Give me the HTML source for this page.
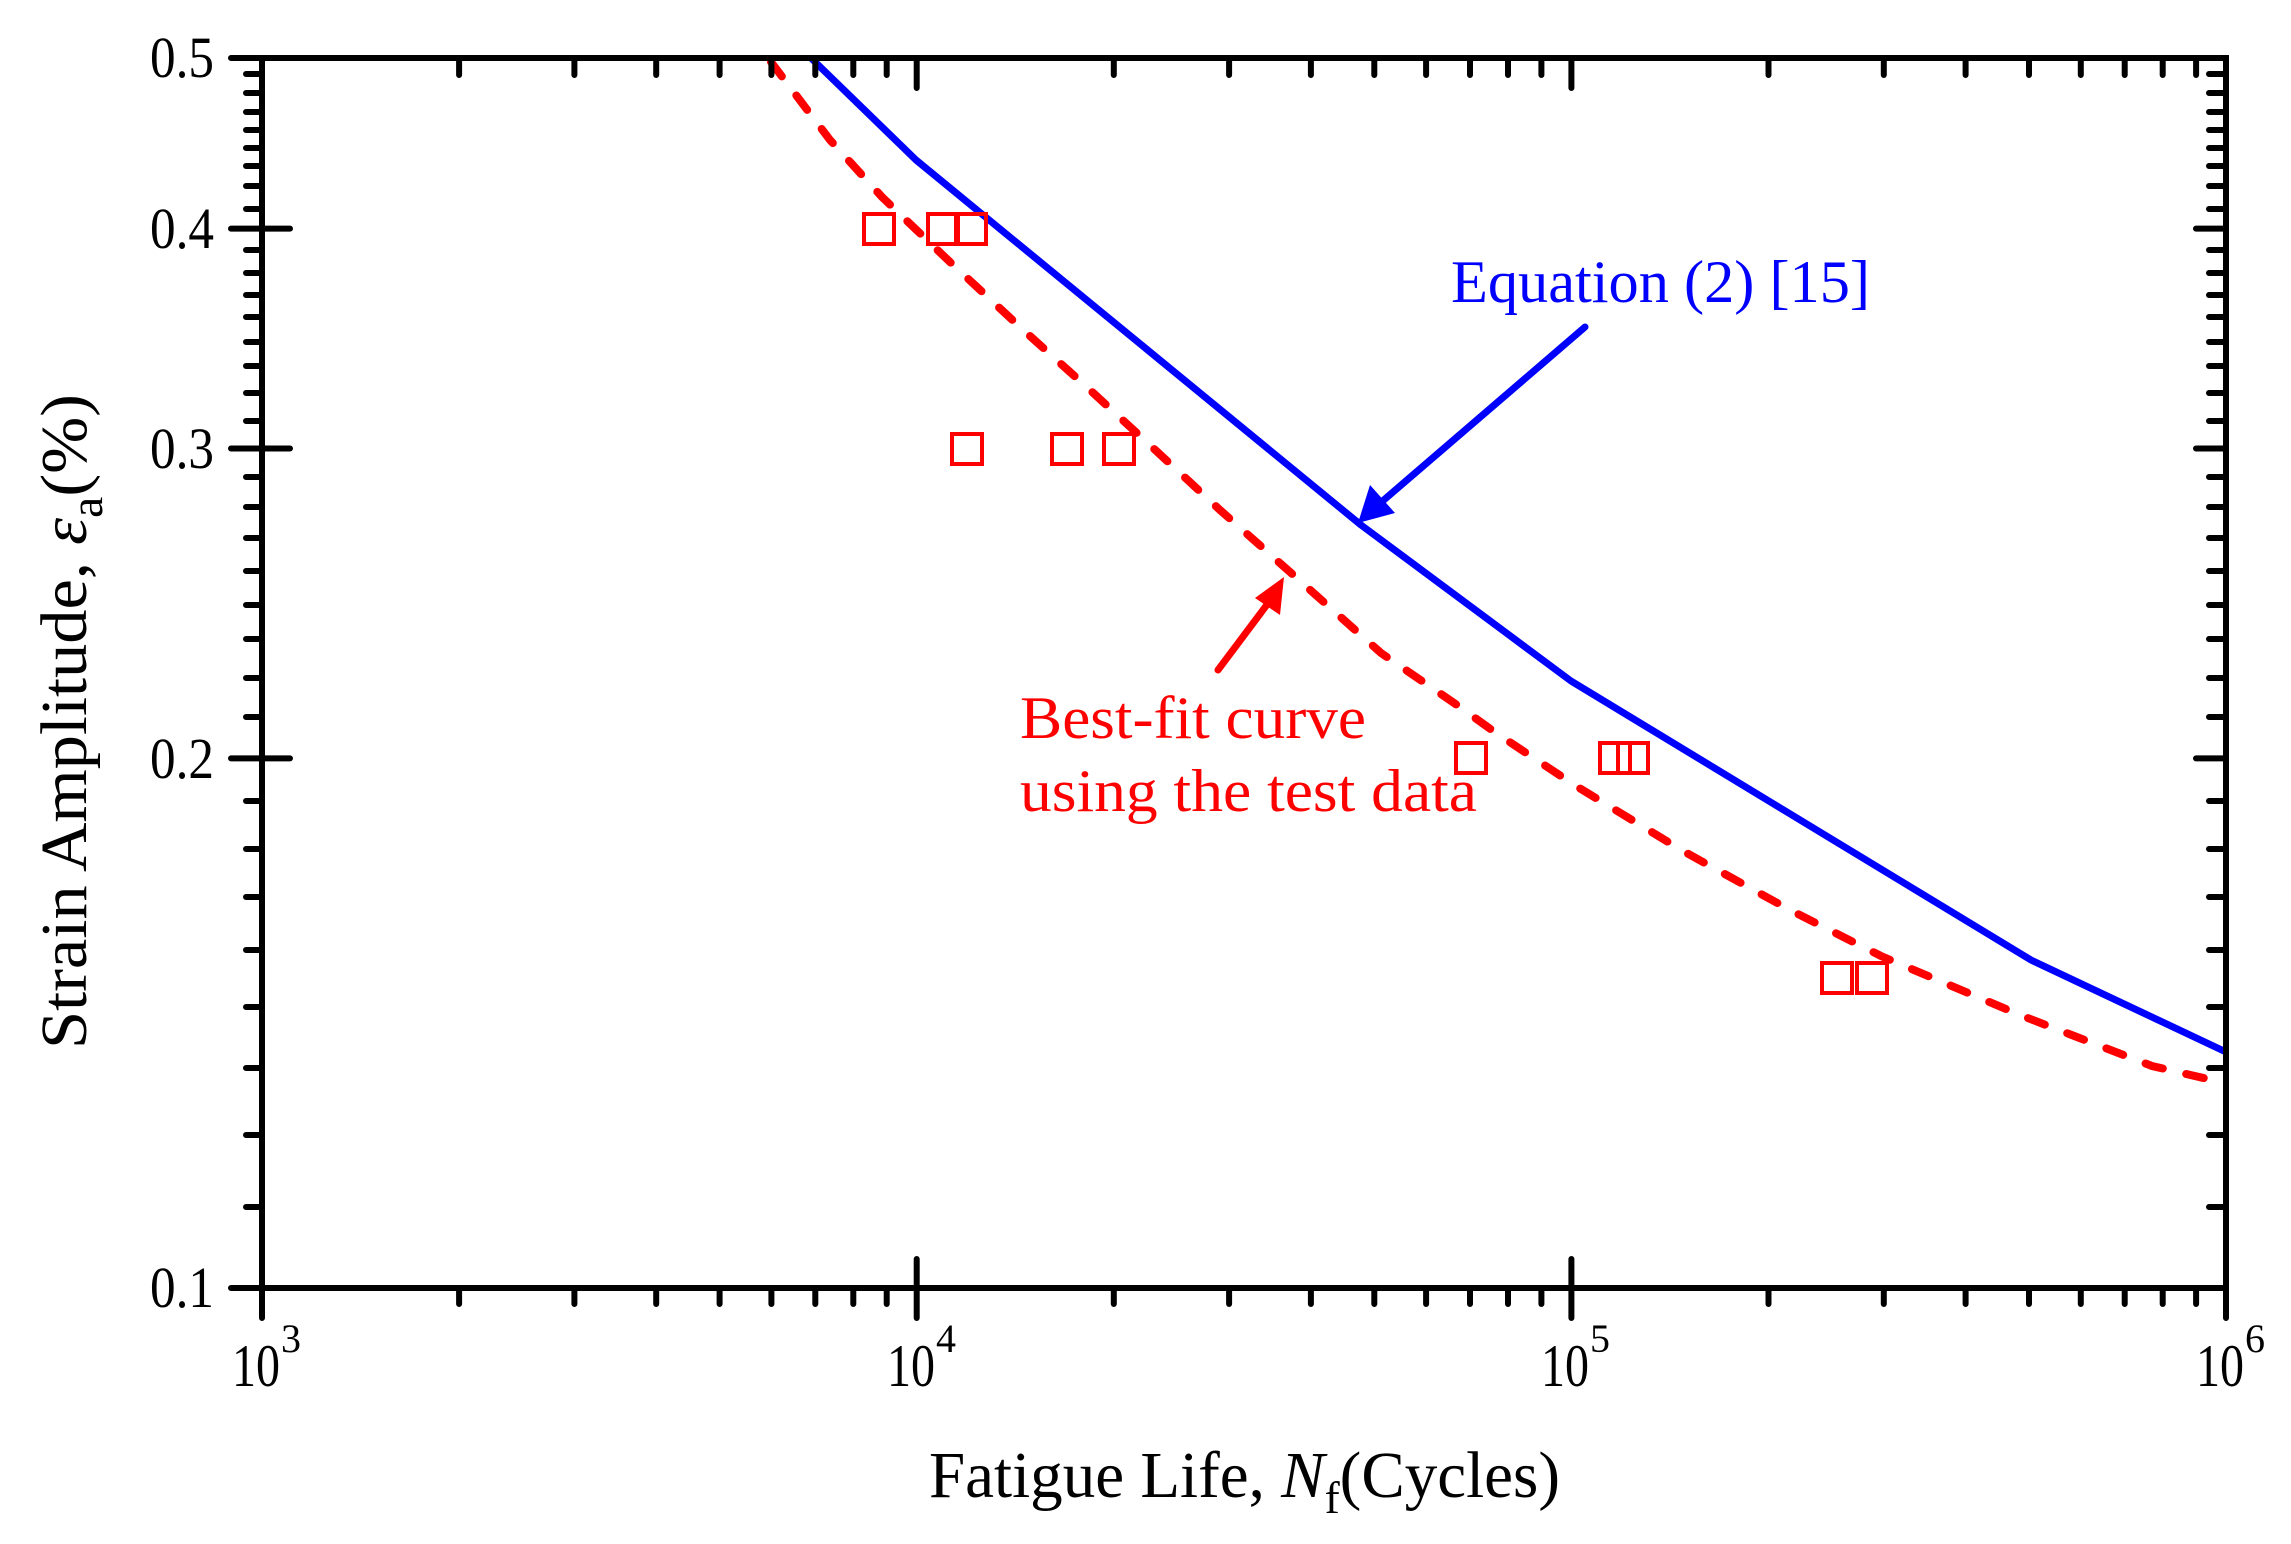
<!DOCTYPE html>
<html><head><meta charset="utf-8"><style>html,body{margin:0;padding:0;background:#fff}svg{display:block}</style></head>
<body>
<svg width="2291" height="1544" viewBox="0 0 2291 1544" xmlns="http://www.w3.org/2000/svg" font-family="'Liberation Serif', serif">
<rect width="2291" height="1544" fill="#fff"/>
<!-- curves -->
<polyline fill="none" stroke="#0000ff" stroke-width="7" stroke-linejoin="round" points="811,58 916,160 1361,525 1571,681 2031,960 2226,1052"/>
<path fill="none" stroke="#ff0000" stroke-width="8" stroke-linecap="round" stroke-dasharray="18,24" d="M771,62 L830,140 L882,197 L950,262 L1020,327 L1090,390 L1152,447 L1220,510 L1290,572 L1381,653 L1457,705 L1496,733 L1576,786 L1683,851 L1790,910 L1881,956 L2020,1015 L2152,1066 L2225,1083"/>
<!-- data squares -->
<g fill="none" stroke="#ff0000" stroke-width="4">
<rect x="864" y="214" width="30" height="30"/><rect x="928" y="214" width="30" height="30"/><rect x="956" y="214" width="30" height="30"/>
<rect x="952" y="434" width="30" height="30"/><rect x="1052" y="434" width="30" height="30"/><rect x="1104" y="434" width="30" height="30"/>
<rect x="1456" y="743" width="30" height="30"/><rect x="1600" y="743" width="30" height="30"/><rect x="1618" y="743" width="30" height="30"/>
<rect x="1822" y="963" width="30" height="30"/><rect x="1857" y="963" width="30" height="30"/>
</g>
<!-- annotations -->
<line x1="1585" y1="327" x2="1378" y2="505" stroke="#0000ff" stroke-width="7" stroke-linecap="round"/>
<polygon points="1358,523 1370,485 1395,513" fill="#0000ff"/>
<text x="1451" y="302" font-size="60" fill="#0000ff" textLength="419" lengthAdjust="spacingAndGlyphs">Equation (2) [15]</text>
<line x1="1218" y1="670" x2="1272" y2="598" stroke="#ff0000" stroke-width="7" stroke-linecap="round"/>
<polygon points="1284,577 1280,615 1255,598" fill="#ff0000"/>
<text x="1020" y="738" font-size="60" fill="#ff0000" textLength="346" lengthAdjust="spacingAndGlyphs">Best-fit curve</text>
<text x="1020" y="811" font-size="60" fill="#ff0000" textLength="457" lengthAdjust="spacingAndGlyphs">using the test data</text>
<!-- axes frame -->
<rect x="262" y="58" width="1964" height="1230" fill="none" stroke="#000" stroke-width="6"/>
<g stroke="#000" stroke-width="6" stroke-linecap="round" fill="none">
<path d="M262,1259V1318M916.7,1259V1318M1571.4,1259V1318M2226,1259V1318"/>
<path d="M459.1,1288v16M574.4,1288v16M656.2,1288v16M719.6,1288v16M771.4,1288v16M815.3,1288v16M853.3,1288v16M886.7,1288v16M1113.8,1288v16M1229.1,1288v16M1310.9,1288v16M1374.3,1288v16M1426.1,1288v16M1470,1288v16M1508,1288v16M1541.4,1288v16M1768.5,1288v16M1883.8,1288v16M1965.6,1288v16M2029,1288v16M2080.8,1288v16M2124.7,1288v16M2162.7,1288v16M2196.1,1288v16"/>
<path d="M916.7,58v30M1571.4,58v30"/>
<path d="M459.1,58v17M574.4,58v17M656.2,58v17M719.6,58v17M771.4,58v17M815.3,58v17M853.3,58v17M886.7,58v17M1113.8,58v17M1229.1,58v17M1310.9,58v17M1374.3,58v17M1426.1,58v17M1470,58v17M1508,58v17M1541.4,58v17M1768.5,58v17M1883.8,58v17M1965.6,58v17M2029,58v17M2080.8,58v17M2124.7,58v17M2162.7,58v17M2196.1,58v17"/>
<path d="M231,58h31M231,228.6h59M231,448.5h59M231,758.4h59M231,1288h59"/>
<path d="M2196,228.6h30M2196,448.5h30M2196,758.4h30"/>
<path d="M246,74h16M246,93h16M246,112h16M246,130h16M246,148h16M246,166h16M246,186h16M246,209h16M246,250h16M246,273h16M246,295h16M246,317h16M246,342h16M246,366h16M246,393h16M246,421h16M246,477h16M246,507h16M246,538h16M246,571h16M246,605h16M246,639h16M246,678h16M246,717h16M246,801h16M246,849h16M246,897h16M246,950h16M246,1007h16M246,1068h16M246,1135h16M246,1207h16"/>
<path d="M2209,74h17M2209,93h17M2209,112h17M2209,130h17M2209,148h17M2209,166h17M2209,186h17M2209,209h17M2209,250h17M2209,273h17M2209,295h17M2209,317h17M2209,342h17M2209,366h17M2209,393h17M2209,421h17M2209,477h17M2209,507h17M2209,538h17M2209,571h17M2209,605h17M2209,639h17M2209,678h17M2209,717h17M2209,801h17M2209,849h17M2209,897h17M2209,950h17M2209,1007h17M2209,1068h17M2209,1135h17M2209,1207h17"/>
</g>
<!-- y tick labels -->
<g font-size="58" fill="#000">
<text x="150" y="77" textLength="64" lengthAdjust="spacingAndGlyphs">0.5</text>
<text x="150" y="248" textLength="64" lengthAdjust="spacingAndGlyphs">0.4</text>
<text x="150" y="468" textLength="64" lengthAdjust="spacingAndGlyphs">0.3</text>
<text x="150" y="778" textLength="64" lengthAdjust="spacingAndGlyphs">0.2</text>
<text x="150" y="1307" textLength="64" lengthAdjust="spacingAndGlyphs">0.1</text>
</g>
<!-- x tick labels -->
<g font-size="60" fill="#000">
<text x="232" y="1386" textLength="48" lengthAdjust="spacingAndGlyphs">10</text><text x="281" y="1352" font-size="40">3</text>
<text x="887" y="1386" textLength="48" lengthAdjust="spacingAndGlyphs">10</text><text x="936" y="1352" font-size="40">4</text>
<text x="1541" y="1386" textLength="48" lengthAdjust="spacingAndGlyphs">10</text><text x="1590" y="1352" font-size="40">5</text>
<text x="2196" y="1386" textLength="48" lengthAdjust="spacingAndGlyphs">10</text><text x="2245" y="1352" font-size="40">6</text>
</g>
<!-- axis titles -->
<text x="929" y="1497" font-size="66" fill="#000" textLength="631" lengthAdjust="spacingAndGlyphs">Fatigue Life, <tspan font-style="italic">N</tspan><tspan font-size="46" dy="16">f</tspan><tspan dy="-16">(Cycles)</tspan></text>
<text transform="translate(86,1049) rotate(-90)" font-size="66" fill="#000" textLength="655" lengthAdjust="spacingAndGlyphs">Strain Amplitude, <tspan font-style="italic">ε</tspan><tspan font-size="46" dy="16">a</tspan><tspan dy="-16">(%)</tspan></text>
</svg>
</body></html>
